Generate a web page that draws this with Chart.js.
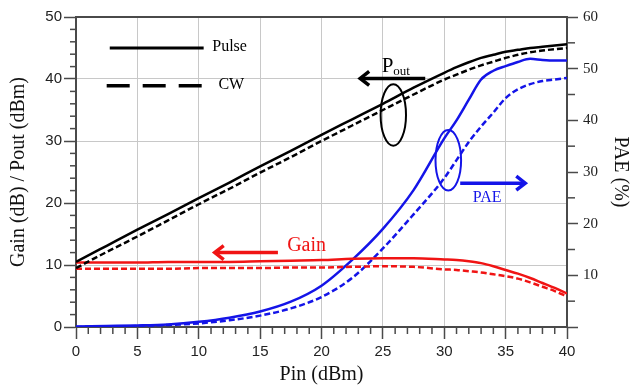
<!DOCTYPE html>
<html>
<head>
<meta charset="utf-8">
<script src="https://cdn.jsdelivr.net/npm/chart.js@4.4.1/dist/chart.umd.min.js"></script>
<style>
  html, body { margin: 0; padding: 0; background: #fff; }
  #chart { display: block; }
</style>
</head>
<body>
<canvas id="chart" width="630" height="386"></canvas>
<script>
// input power sweep (dBm)
var pinValues = [0, 2.5, 5, 7.5, 10, 12.5, 15, 17.5, 20, 22.5, 25, 27.5, 30, 31, 32, 33, 34, 35, 36, 37, 38, 39, 40];

// output power (dBm)
var poutPulse = [10.5, 13.1, 15.7, 18.2, 20.8, 23.3, 25.9, 28.4, 31.0, 33.5, 36.0, 38.6, 41.0, 41.9, 42.7, 43.4, 43.9, 44.4, 44.7, 45.0, 45.2, 45.4, 45.6];
var poutCw    = [9.5, 12.1, 14.6, 17.2, 19.8, 22.3, 24.9, 27.4, 30.0, 32.5, 35.0, 37.5, 39.9, 40.7, 41.5, 42.2, 42.8, 43.4, 43.9, 44.3, 44.6, 44.8, 45.0];

// gain (dB)
var gainPulse = [10.4, 10.4, 10.4, 10.5, 10.5, 10.5, 10.6, 10.7, 10.8, 11.0, 11.1, 11.1, 10.9, 10.8, 10.6, 10.3, 9.8, 9.2, 8.6, 7.9, 7.1, 6.3, 5.4];
var gainCw    = [9.4, 9.4, 9.4, 9.4, 9.5, 9.5, 9.5, 9.6, 9.6, 9.7, 9.8, 9.7, 9.3, 9.2, 9.0, 8.8, 8.5, 8.2, 7.8, 7.2, 6.5, 5.8, 4.9];

// power added efficiency (%)
var paePulse = [0.1, 0.2, 0.3, 0.5, 1.0, 1.8, 3.0, 4.9, 8.0, 13.0, 19.0, 26.5, 36.5, 40.0, 44.0, 47.9, 49.6, 50.5, 51.3, 51.9, 51.7, 51.6, 51.6];
var paeCw    = [0, 0.1, 0.2, 0.4, 0.7, 1.3, 2.2, 3.6, 5.8, 9.5, 15.2, 21.8, 28.8, 32.3, 35.8, 38.8, 41.5, 44.3, 46.0, 47.0, 47.6, 47.9, 48.2];

var BLACK = '#000000';
var RED = '#f01414';
var BLUE = '#1414e8';
var AXIS = '#4a4a4a';
var GRID = '#c8c8c8';
var SANS = '"Liberation Sans", Arial, sans-serif';
var SERIF = '"Liberation Serif", "Times New Roman", serif';

function toPoints(values) {
  return pinValues.map(function (x, i) {
    return { x: x, y: values[i] };
  });
}

function makeSeries(values, color, dashed, axis) {
  return {
    data: toPoints(values),
    borderColor: color,
    borderWidth: 2.5,
    borderDash: dashed ? [6, 3] : [],
    pointRadius: 0,
    fill: false,
    cubicInterpolationMode: 'monotone',
    yAxisID: axis
  };
}

function line(ctx, x1, y1, x2, y2) {
  ctx.beginPath();
  ctx.moveTo(x1, y1);
  ctx.lineTo(x2, y2);
  ctx.stroke();
}

// horizontal arrow with an open chevron head at x2
function arrow(ctx, x1, y, x2, color) {
  var dir = x2 > x1 ? 1 : -1;
  ctx.strokeStyle = color;
  ctx.lineWidth = 3.5;
  ctx.lineCap = 'butt';
  ctx.lineJoin = 'miter';
  line(ctx, x1, y, x2 - dir * 1.5, y);
  ctx.beginPath();
  ctx.moveTo(x2 - dir * 9, y - 7);
  ctx.lineTo(x2, y);
  ctx.lineTo(x2 - dir * 9, y + 7);
  ctx.stroke();
}

function ellipse(ctx, cx, cy, rx, ry, color) {
  ctx.strokeStyle = color;
  ctx.lineWidth = 2;
  ctx.setLineDash([]);
  ctx.beginPath();
  ctx.ellipse(cx, cy, rx, ry, 0, 0, Math.PI * 2);
  ctx.stroke();
}

// minor ticks, top frame line, legend keys and curve labels
var decorPlugin = {
  id: 'decor',
  afterDraw: function (chart) {
    var ctx = chart.ctx;
    var area = chart.chartArea;
    var xs = chart.scales.x;
    var yl = chart.scales.y;
    var yr = chart.scales.y2;
    var v, p;

    ctx.save();
    ctx.strokeStyle = AXIS;
    ctx.lineWidth = 2;
    line(ctx, area.left - 1, area.top, area.right + 1, area.top);

    ctx.lineWidth = 1.5;
    for (v = 1; v < 40; v++) {
      if (v % 5 === 0) continue;
      p = xs.getPixelForValue(v);
      line(ctx, p, area.bottom, p, area.bottom + 7);
    }
    for (v = 2; v < 50; v += 2) {
      if (v % 10 === 0) continue;
      p = yl.getPixelForValue(v);
      line(ctx, area.left - 6, p, area.left, p);
    }
    for (v = 5; v < 60; v += 10) {
      p = yr.getPixelForValue(v);
      line(ctx, area.right, p, area.right + 8, p);
    }

    // legend keys
    ctx.strokeStyle = BLACK;
    ctx.lineWidth = 3;
    line(ctx, xs.getPixelForValue(2.75), yl.getPixelForValue(45.0), xs.getPixelForValue(10.4), yl.getPixelForValue(45.0));
    ctx.lineWidth = 3.5;
    ctx.setLineDash([23, 13]);
    line(ctx, xs.getPixelForValue(2.5), yl.getPixelForValue(38.9), xs.getPixelForValue(10.4), yl.getPixelForValue(38.9));
    ctx.setLineDash([]);

    ctx.fillStyle = BLACK;
    ctx.textAlign = 'left';
    ctx.textBaseline = 'middle';
    ctx.font = '16px ' + SERIF;
    ctx.fillText('Pulse', xs.getPixelForValue(11.1), yl.getPixelForValue(45.2));
    ctx.fillText('CW', xs.getPixelForValue(11.6), yl.getPixelForValue(39.0));

    // Pout label, arrow and ellipse
    var px = xs.getPixelForValue(24.9);
    var py = yl.getPixelForValue(41.2);
    ctx.textBaseline = 'alphabetic';
    ctx.font = '21px ' + SERIF;
    ctx.fillText('P', px, py);
    var pw = ctx.measureText('P').width;
    ctx.font = '13px ' + SERIF;
    ctx.fillText('out', px + pw, py + 3);
    arrow(ctx, xs.getPixelForValue(28.45), yl.getPixelForValue(40.1), xs.getPixelForValue(23.15), BLACK);
    ellipse(ctx, xs.getPixelForValue(25.85), yl.getPixelForValue(34.2), 12.7, 30.8, BLACK);

    // PAE label, arrow and ellipse
    ellipse(ctx, xs.getPixelForValue(30.33), yl.getPixelForValue(26.9), 12.8, 30.3, BLUE);
    arrow(ctx, xs.getPixelForValue(31.3), yl.getPixelForValue(23.2), xs.getPixelForValue(36.6), BLUE);
    ctx.fillStyle = BLUE;
    ctx.font = '16px ' + SERIF;
    ctx.textAlign = 'center';
    ctx.textBaseline = 'middle';
    ctx.fillText('PAE', xs.getPixelForValue(33.5), yl.getPixelForValue(20.9));

    // Gain label and arrow
    arrow(ctx, xs.getPixelForValue(16.45), yl.getPixelForValue(12.0), xs.getPixelForValue(11.3), RED);
    ctx.fillStyle = RED;
    ctx.font = '20px ' + SERIF;
    ctx.textAlign = 'left';
    ctx.fillText('Gain', xs.getPixelForValue(17.2), yl.getPixelForValue(13.1));

    ctx.restore();
  }
};

var ctx = document.getElementById('chart').getContext('2d');

var chart = new Chart(ctx, {
  type: 'line',
  data: {
    datasets: [
      makeSeries(poutPulse, BLACK, false, 'y'),
      makeSeries(poutCw, BLACK, true, 'y'),
      makeSeries(gainPulse, RED, false, 'y'),
      makeSeries(gainCw, RED, true, 'y'),
      makeSeries(paePulse, BLUE, false, 'y2'),
      makeSeries(paeCw, BLUE, true, 'y2')
    ]
  },
  options: {
    responsive: false,
    animation: false,
    devicePixelRatio: 1,
    layout: { padding: { top: 17, right: 0, bottom: 0, left: 0 } },
    plugins: {
      legend: { display: false },
      tooltip: { enabled: false }
    },
    scales: {
      x: {
        type: 'linear',
        min: 0,
        max: 40,
        ticks: {
          stepSize: 5,
          color: '#222',
          padding: 4,
          font: { family: SANS, size: 15 }
        },
        grid: { color: GRID, lineWidth: 1, tickColor: AXIS, tickLength: 12, tickWidth: 1.5 },
        border: { color: AXIS, width: 2 },
        title: {
          display: true,
          text: 'Pin (dBm)',
          color: '#111',
          font: { family: SERIF, size: 20, lineHeight: 1 },
          padding: { top: 0, bottom: 1 }
        },
        afterFit: function (scale) { scale.height = 59; }
      },
      y: {
        position: 'left',
        min: 0,
        max: 50,
        ticks: {
          stepSize: 10,
          color: '#222',
          padding: 2,
          font: { family: SANS, size: 15 }
        },
        grid: { color: GRID, lineWidth: 1, tickColor: AXIS, tickLength: 12, tickWidth: 1.5 },
        border: { color: AXIS, width: 2 },
        title: {
          display: true,
          text: 'Gain (dB) / Pout (dBm)',
          color: '#111',
          font: { family: SERIF, size: 20, lineHeight: 1 },
          padding: { top: 9, bottom: 0 }
        },
        afterFit: function (scale) { scale.width = 76; }
      },
      y2: {
        position: 'right',
        min: 0,
        max: 60,
        ticks: {
          stepSize: 10,
          color: '#222',
          padding: 5,
          font: { family: SERIF, size: 15 },
          callback: function (value) { return value === 0 ? '' : value; }
        },
        grid: { drawOnChartArea: false, tickColor: AXIS, tickLength: 11, tickWidth: 1.5 },
        border: { color: AXIS, width: 2 },
        title: {
          display: true,
          text: 'PAE (%)',
          color: '#111',
          font: { family: SERIF, size: 20, lineHeight: 1 },
          padding: { top: 0, bottom: 0 }
        },
        afterFit: function (scale) { scale.width = 63; }
      }
    }
  },
  plugins: [decorPlugin]
});
</script>
</body>
</html>
